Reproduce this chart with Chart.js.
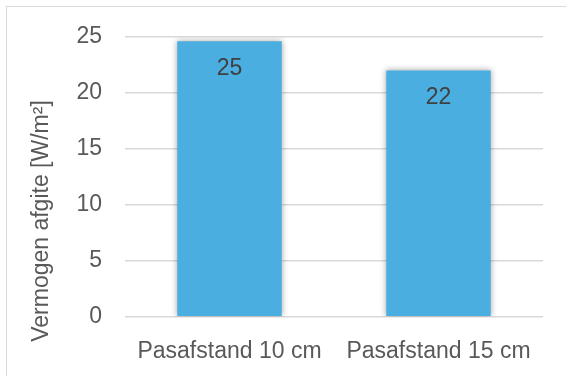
<!DOCTYPE html>
<html>
<head>
<meta charset="utf-8">
<script src="https://cdn.jsdelivr.net/npm/chart.js@4.4.9/dist/chart.umd.min.js"></script>
<style>
  html, body { margin: 0; padding: 0; background: #fff; overflow: hidden; }
  #wrap { position: relative; width: 566px; height: 376px; }
  #frame { position: absolute; left: 6px; top: 6px; width: 600px; height: 400px;
           border: 1.5px solid #d9d9d9; box-sizing: border-box; }
  canvas { position: absolute; left: 0; top: 0; }
</style>
</head>
<body>
<div id="wrap">
  <div id="frame"></div>
  <canvas id="chart" width="566" height="376"></canvas>
</div>
<script>
// 데이터
const categories = ['Pasafstand 10 cm', 'Pasafstand 15 cm'];
const vermogen = [24.6, 22.0];
const yTicks = [0, 5, 10, 15, 20, 25];
const yTitle = 'Vermogen afgite [W/m²]';

const FONT = "'Liberation Sans', Arial, sans-serif";

// 막대 그림자
const barShadow = {
    id: 'barShadow',
    beforeDatasetDraw(chart) {
        const c = chart.ctx;
        c.save();
        c.shadowColor = 'rgba(0,0,0,0.35)';
        c.shadowBlur = 6;
        c.shadowOffsetX = 0;
        c.shadowOffsetY = 0;
    },
    afterDatasetDraw(chart) {
        chart.ctx.restore();
    }
};

// 막대 안쪽 위에 값 표시 (소수점 없이)
const valueLabels = {
    id: 'valueLabels',
    afterDatasetsDraw(chart) {
        const c = chart.ctx;
        const meta = chart.getDatasetMeta(0);
        c.save();
        c.font = '23px ' + FONT;
        c.fillStyle = '#404040';
        c.textAlign = 'center';
        c.textBaseline = 'middle';
        meta.data.forEach((bar, i) => {
            const v = chart.data.datasets[0].data[i];
            c.fillText(Math.round(v).toString(), bar.x, bar.y + 27);
        });
        c.restore();
    }
};

// 세로축 제목 (축 영역보다 아래쪽에 걸쳐 있어서 직접 그림)
const axisTitle = {
    id: 'axisTitle',
    afterDraw(chart) {
        const c = chart.ctx;
        c.save();
        c.translate(42, 221);
        c.rotate(-Math.PI / 2);
        c.font = '23px ' + FONT;
        c.fillStyle = '#595959';
        c.textAlign = 'center';
        c.textBaseline = 'middle';
        c.fillText(yTitle, 0, 0);
        c.restore();
    }
};

const ctx = document.getElementById('chart').getContext('2d');
new Chart(ctx, {
    type: 'bar',
    data: {
        labels: categories,
        datasets: [{
            data: vermogen,
            backgroundColor: '#4BAEE0',
            borderWidth: 0,
            barPercentage: 0.5,
            categoryPercentage: 1.0
        }]
    },
    options: {
        responsive: false,
        animation: false,
        layout: { padding: { top: 36.7, right: 23, left: 0, bottom: 0 } },
        plugins: {
            legend: { display: false },
            tooltip: { enabled: false }
        },
        scales: {
            x: {
                grid: { display: false, drawTicks: false },
                border: { display: false },
                ticks: {
                    color: '#595959',
                    font: { family: FONT, size: 23 },
                    padding: 21,
                    maxRotation: 0
                },
                afterFit: scale => { scale.height = 59.3; }
            },
            y: {
                min: 0,
                max: 25,
                afterBuildTicks: scale => {
                    scale.ticks = yTicks.map(v => ({ value: v }));
                },
                grid: { color: '#d9d9d9', lineWidth: 1.5, drawTicks: false },
                border: { display: false },
                ticks: {
                    color: '#595959',
                    font: { family: FONT, size: 23 },
                    padding: 23
                },
                afterFit: scale => { scale.width = 125; }
            }
        }
    },
    plugins: [barShadow, valueLabels, axisTitle]
});
</script>
</body>
</html>
